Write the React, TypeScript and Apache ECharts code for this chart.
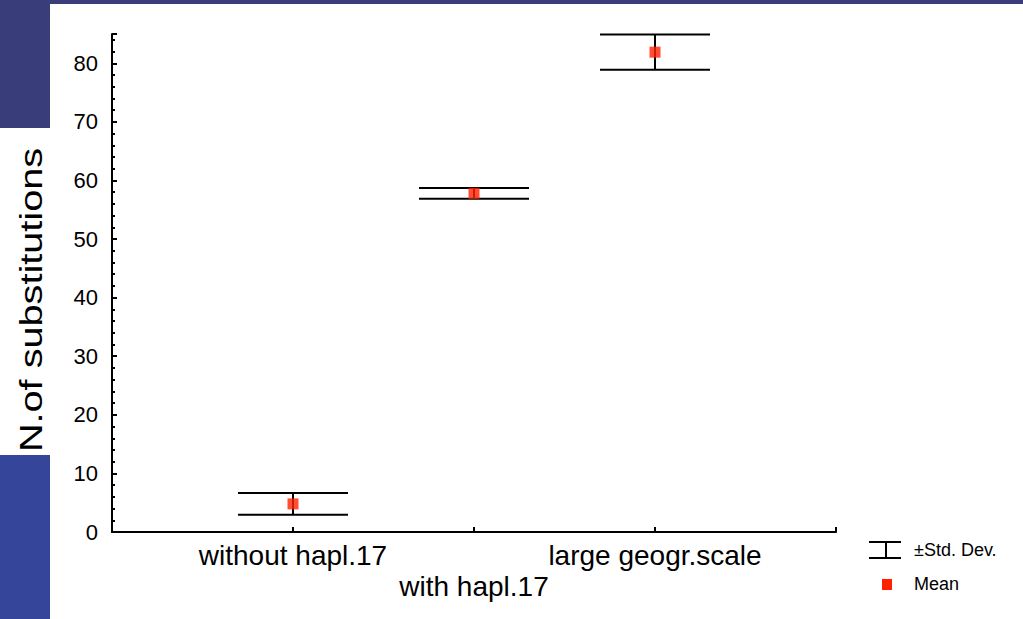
import React, { useEffect, useRef } from "react";
import * as echarts from "echarts";

const categories = ["without hapl.17", "with hapl.17", "large geogr.scale"];
const categoryPositions = [1, 2, 3];
const means = [4.8, 57.8, 81.9];
const stdDevs = [1.85, 0.93, 3.0];
const yTicks = [0, 10, 20, 30, 40, 50, 60, 70, 80];
const legendLabels = ["±Std. Dev.", "Mean"];
const yTitle = "N.of substitutions";

export default function App() {
  const ref = useRef<HTMLDivElement>(null);
  useEffect(() => {
    if (!ref.current) return;
    const chart = echarts.init(ref.current, null, { renderer: "svg" });
    const errData = categoryPositions.map((x, i) => [x, means[i] - stdDevs[i], means[i] + stdDevs[i]]);
    const meanData = categoryPositions.map((x, i) => [x, means[i]]);
    const font = "Liberation Sans";
    chart.setOption({
      animation: false,
      backgroundColor: "#ffffff",
      grid: { left: 112, right: 187, top: 34, bottom: 87, containLabel: false },
      xAxis: {
        type: "value",
        min: 0,
        max: 4,
        interval: 1,
        splitLine: { show: false },
        axisLine: { show: true, onZero: false, lineStyle: { color: "#000", width: 2 } },
        axisTick: { show: true, inside: true, length: 5, lineStyle: { color: "#000", width: 2 } },
        axisLabel: {
          margin: 8,
          fontFamily: font,
          fontSize: 28,
          lineHeight: 31,
          color: "#000",
          showMinLabel: true,
          showMaxLabel: true,
          formatter: (v: number) => {
            const idx = categoryPositions.indexOf(v);
            if (idx < 0) return "";
            return idx % 2 === 1 ? "\n" + categories[idx] : categories[idx];
          },
        },
      },
      yAxis: {
        type: "value",
        min: 0,
        max: 85,
        interval: 10,
        splitLine: { show: false },
        axisLine: { show: true, lineStyle: { color: "#000", width: 2 } },
        axisTick: { show: true, inside: true, length: 5, lineStyle: { color: "#000", width: 2 } },
        minorTick: { show: true, splitNumber: 5, length: 3, lineStyle: { color: "#000", width: 2 } },
        axisLabel: {
          margin: 14,
          fontFamily: font,
          fontSize: 22,
          color: "#000",
          formatter: (v: number) => (yTicks.includes(v) ? String(v) : ""),
        },
      },
      series: [
        {
          type: "custom",
          name: legendLabels[0],
          data: errData,
          encode: { x: 0, y: [1, 2] },
          renderItem: (params: any, api: any) => {
            const x = api.value(0);
            const lo = api.coord([x, api.value(1)]);
            const hi = api.coord([x, api.value(2)]);
            const hw = 55;
            const style = { stroke: "#000", lineWidth: 2 };
            return {
              type: "group",
              children: [
                { type: "line", shape: { x1: hi[0] - hw, y1: hi[1], x2: hi[0] + hw, y2: hi[1] }, style },
                { type: "line", shape: { x1: lo[0] - hw, y1: lo[1], x2: lo[0] + hw, y2: lo[1] }, style },
                { type: "line", shape: { x1: hi[0], y1: hi[1], x2: lo[0], y2: lo[1] }, style },
              ],
            };
          },
          z: 2,
        },
        {
          type: "scatter",
          name: legendLabels[1],
          data: meanData,
          symbol: "rect",
          symbolSize: 11,
          itemStyle: { color: "#ff2200" },
          z: 3,
        },
      ],
      graphic: [
        { type: "rect", shape: { x: 0, y: 0, width: 1023, height: 4 }, style: { fill: "#393e7b" }, silent: true },
        { type: "rect", shape: { x: 0, y: 0, width: 50, height: 128 }, style: { fill: "#393e7b" }, silent: true },
        { type: "rect", shape: { x: 0, y: 455, width: 50, height: 164 }, style: { fill: "#35469a" }, silent: true },
        {
          type: "text",
          x: 31,
          y: 300,
          rotation: Math.PI / 2,
          scaleX: 1.24,
          style: {
            text: yTitle,
            font: `32px "${font}"`,
            fill: "#000",
            align: "center",
            verticalAlign: "middle",
          },
        },
        { type: "line", shape: { x1: 869, y1: 542, x2: 901, y2: 542 }, style: { stroke: "#000", lineWidth: 2 } },
        { type: "line", shape: { x1: 869, y1: 558, x2: 901, y2: 558 }, style: { stroke: "#000", lineWidth: 2 } },
        { type: "line", shape: { x1: 886, y1: 542, x2: 886, y2: 558 }, style: { stroke: "#000", lineWidth: 2 } },
        {
          type: "text",
          x: 914,
          y: 550,
          style: { text: legendLabels[0], font: `18px "${font}"`, fill: "#000", align: "left", verticalAlign: "middle" },
        },
        { type: "rect", shape: { x: 882, y: 579, width: 10, height: 11 }, style: { fill: "#ff2200" } },
        {
          type: "text",
          x: 914,
          y: 584,
          style: { text: legendLabels[1], font: `18px "${font}"`, fill: "#000", align: "left", verticalAlign: "middle" },
        },
      ],
    });
    return () => chart.dispose();
  }, []);
  return <div ref={ref} style={{ position: "absolute", left: 0, top: 0, width: 1023, height: 619 }} />;
}
